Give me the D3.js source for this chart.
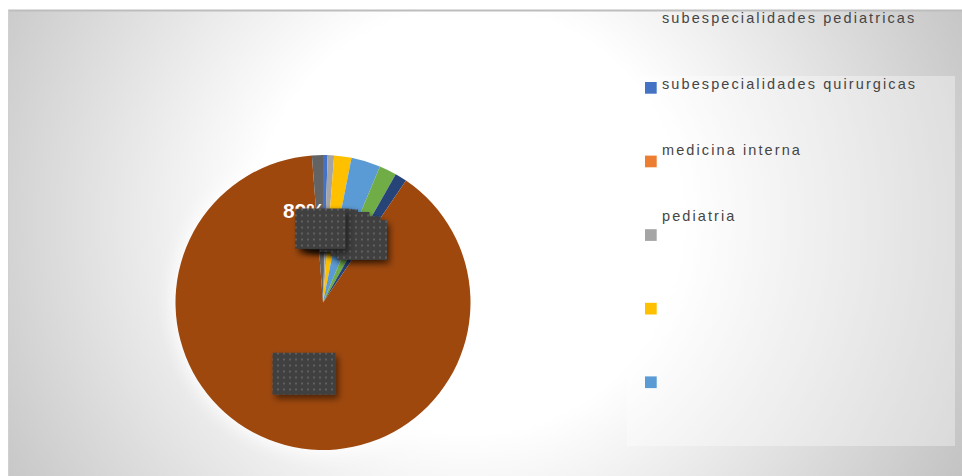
<!DOCTYPE html>
<html>
<head>
<meta charset="utf-8">
<script src="https://cdn.jsdelivr.net/npm/d3@7"></script>
<style>
  html, body { margin: 0; padding: 0; background: #ffffff; }
  svg { display: block; }
</style>
</head>
<body>
<svg id="chart" width="962" height="476"></svg>
<script>
// ---- data ----
const categories = [
  "subespecialidades quirurgicas", "medicina interna", "pediatria",
  "", "", "", "", "", ""
];
const values = [0.5, 0, 0.7, 1.9, 3.2, 1.9, 1.3, 89.2, 1.2];
const colors = ["#4472C4", "#ED7D31", "#A5A5A5", "#FFC000", "#5B9BD5",
                "#70AD47", "#264478", "#9E480E", "#636363"];
const legendTitle = "subespecialidades pediatricas";

// ---- layout ----
const svg = d3.select("#chart");
const W = 962, H = 476;
const area = {x: 8, y: 10, w: 954, h: 466};
const cx = 323, cy = 302.5, R = 147.5;

const defs = svg.append("defs");
const bg = defs.append("radialGradient").attr("id", "bg")
  .attr("gradientUnits", "userSpaceOnUse")
  .attr("cx", 470).attr("cy", 220).attr("r", 560);
bg.append("stop").attr("offset", 0).attr("stop-color", "#ffffff");
bg.append("stop").attr("offset", 0.38).attr("stop-color", "#ffffff");
bg.append("stop").attr("offset", 1).attr("stop-color", "#c2c2c2");

const pat = defs.append("pattern").attr("id", "dots")
  .attr("patternUnits", "userSpaceOnUse").attr("width", 6).attr("height", 6);
pat.append("rect").attr("width", 6).attr("height", 6).attr("fill", "#404040");
pat.append("rect").attr("x", 2).attr("y", 2).attr("width", 2).attr("height", 2).attr("fill", "#5e5e5e");

const sh = defs.append("filter").attr("id", "shadow")
  .attr("x", "-30%").attr("y", "-30%").attr("width", "160%").attr("height", "160%");
sh.append("feDropShadow").attr("dx", 3).attr("dy", 4).attr("stdDeviation", 3)
  .attr("flood-color", "#000").attr("flood-opacity", 0.5);

const glow = defs.append("filter").attr("id", "glow")
  .attr("x", "-30%").attr("y", "-30%").attr("width", "160%").attr("height", "160%");
glow.append("feGaussianBlur").attr("stdDeviation", 8);

defs.append("clipPath").attr("id", "legclip")
  .append("rect").attr("x", 627).attr("y", 76).attr("width", 328).attr("height", 370);

// chart area background
svg.append("rect").attr("x", area.x).attr("y", area.y)
  .attr("width", area.w).attr("height", area.h).attr("fill", "url(#bg)");
svg.append("line").attr("x1", area.x).attr("x2", W).attr("y1", area.y + 0.5).attr("y2", area.y + 0.5)
  .attr("stroke", "#bdbdbd").attr("stroke-width", 2);
svg.append("line").attr("x1", area.x + 0.5).attr("x2", area.x + 0.5).attr("y1", area.y).attr("y2", H)
  .attr("stroke", "#d0d0d0").attr("stroke-width", 1);

// ---- pie ----
const total = d3.sum(values);
const data = values.map((v, i) => ({name: categories[i], value: v, color: colors[i], i}));
const pie = d3.pie().value(d => d.value).sort(null);
const arcs = pie(data);
const arc = d3.arc().innerRadius(0).outerRadius(R);

const g = svg.append("g").attr("transform", `translate(${cx},${cy})`);
g.append("circle").attr("r", R + 4).attr("fill", "#ffffff").attr("opacity", 0.9)
  .attr("filter", "url(#glow)");
g.selectAll("path.slice").data(arcs).join("path").attr("class", "slice")
  .attr("d", arc).attr("fill", d => d.data.color);

// percentage texts
const bigIdx = d3.maxIndex(values);
const bigPct = Math.round(values[bigIdx] / total * 100);
g.append("text").attr("x", -40).attr("y", -85)
  .attr("font-family", "Liberation Sans, Arial, sans-serif").attr("font-weight", "bold")
  .attr("font-size", 21).attr("fill", "#ffffff").text(bigPct + "%");
g.append("text").attr("x", 3).attr("y", -217).attr("text-anchor", "middle")
  .attr("font-family", "Liberation Sans, Arial, sans-serif").attr("font-weight", "bold")
  .attr("font-size", 15).attr("fill", "#ffffff").attr("opacity", 0.85).text((100 - bigPct) + "%");

// data label boxes at slice centroids
g.selectAll("rect.lbl").data(arcs.filter(d => d.data.value > 0)).join("rect").attr("class", "lbl")
  .each(function (d) {
    const [x, y] = arc.centroid(d);
    const w = d.index === bigIdx ? 63 : 50, h = d.index === bigIdx ? 42 : 40;
    d3.select(this).attr("x", x - w / 2).attr("y", y - h / 2).attr("width", w).attr("height", h);
  })
  .attr("fill", "url(#dots)").attr("filter", "url(#shadow)");

// ---- legend ----
svg.append("rect").attr("x", 627).attr("y", 76).attr("width", 328).attr("height", 370)
  .attr("fill", "#ffffff").attr("opacity", 0.35);
const legendItems = [{name: legendTitle, color: null}].concat(data.slice(0, 5));
const leg = svg.append("g");
const font = "Liberation Sans, Arial, sans-serif";
leg.selectAll("rect.mk").data(legendItems).join("rect").attr("class", "mk")
  .attr("clip-path", "url(#legclip)")
  .attr("x", 645).attr("y", (d, i) => 8.4 + 73.6 * i).attr("width", 11.7).attr("height", 11.7)
  .attr("fill", d => d.color || "none");
leg.selectAll("text.lt").data(legendItems).join("text").attr("class", "lt")
  .attr("x", 662).attr("y", (d, i) => 22.5 + 66.3 * i)
  .attr("font-family", font).attr("font-size", 14.5).attr("letter-spacing", 2.1)
  .attr("fill", "#454545").text(d => d.name);
</script>
</body>
</html>
